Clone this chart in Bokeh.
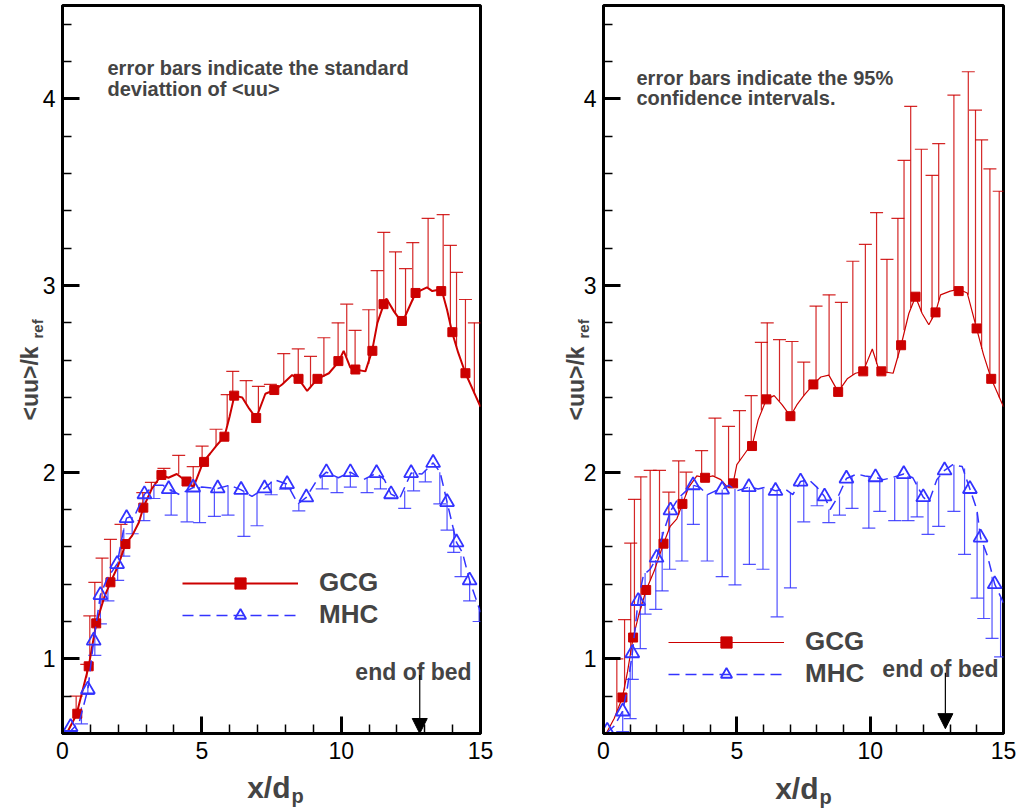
import math
from bokeh.plotting import figure
from bokeh.layouts import row
from bokeh.models import (ColumnDataSource, Whisker, TeeHead, FixedTicker, Label,
                          Legend, LegendItem, Arrow, NormalHead, Range1d)
from bokeh.embed import file_html
from bokeh.resources import INLINE

# ---------------- data: left panel (standard deviation) ----------------
L_GCG_CX = [0.15, 0.5, 0.94, 1.21, 1.5, 1.72, 2.0, 2.26, 2.5, 2.74, 2.9, 3.2, 3.55, 3.8, 4.1, 4.45, 4.7,
            5.05, 5.3, 5.51, 5.81, 6.0, 6.17, 6.45, 6.7, 6.95, 7.28, 7.61, 7.88, 8.24, 8.47, 8.78, 9.15,
            9.56, 9.9, 10.09, 10.33, 10.51, 10.87, 11.11, 11.3, 11.53, 11.62, 11.9, 12.19, 12.4, 12.67,
            13.08, 13.27, 13.6, 13.8, 13.98, 14.2, 14.46, 14.7, 15.0]
L_GCG_CY = [0.60, 0.70, 0.96, 1.19, 1.33, 1.41, 1.50, 1.615, 1.66, 1.73, 1.81, 1.91, 1.985, 1.97, 1.99,
            1.95, 1.92, 2.055, 2.10, 2.14, 2.19, 2.30, 2.41, 2.40, 2.34, 2.29, 2.42, 2.44, 2.47, 2.52,
            2.50, 2.435, 2.50, 2.53, 2.59, 2.65, 2.56, 2.55, 2.54, 2.65, 2.80, 2.90, 2.93, 2.86, 2.80,
            2.87, 2.96, 2.99, 2.97, 2.98, 2.87, 2.75, 2.64, 2.53, 2.45, 2.35]
L_GCG_MX = [0.53, 0.94, 1.21, 1.72, 2.26, 2.90, 3.55, 4.45, 5.08, 5.81, 6.16, 6.95, 7.60, 8.47, 9.15,
            9.90, 10.51, 11.12, 11.52, 12.18, 12.67, 13.59, 13.99, 14.46]
L_GCG_MY = [0.706, 0.96, 1.19, 1.41, 1.615, 1.81, 1.985, 1.95, 2.055, 2.19, 2.41, 2.29, 2.44, 2.50, 2.50,
            2.595, 2.55, 2.65, 2.90, 2.81, 2.96, 2.97, 2.75, 2.53]
L_GCG_EX = [0.49, 0.87, 0.98, 1.16, 1.42, 1.72, 2.10, 2.88, 3.19, 3.64, 4.17, 4.69, 5.01, 5.51, 5.91,
            6.11, 6.59, 7.03, 7.46, 7.94, 8.46, 8.90, 9.38, 9.89, 10.2, 10.5, 10.99, 11.29, 11.53,
            11.95, 12.31, 12.57, 13.12, 13.66, 13.92, 14.14, 14.46, 14.78]
L_GCG_EBASE = [0.69, 0.90, 1.00, 1.16, 1.30, 1.41, 1.54, 1.80, 1.91, 1.98, 1.99, 1.92, 2.04, 2.14, 2.25,
               2.38, 2.37, 2.31, 2.43, 2.48, 2.50, 2.45, 2.51, 2.59, 2.62, 2.55, 2.58, 2.79, 2.90,
               2.85, 2.84, 2.92, 2.99, 2.96, 2.79, 2.67, 2.53, 2.42]
L_GCG_ETOP = [0.80, 0.97, 1.23, 1.41, 1.54, 1.64, 1.72, 1.89, 1.945, 2.02, 2.09, 2.03, 2.14, 2.23, 2.415,
              2.54, 2.49, 2.46, 2.47, 2.635, 2.66, 2.62, 2.72, 2.80, 2.90, 2.76, 2.87, 3.08, 3.285,
              3.18, 3.09, 3.23, 3.36, 3.38, 3.215, 3.07, 2.925, 2.80]

L_MHC_CX = [0.2, 0.6, 0.91, 1.12, 1.36, 1.6, 1.96, 2.2, 2.30, 2.6, 2.94, 3.3, 3.6, 3.81, 4.2, 4.69, 5.0,
            5.57, 6.0, 6.41, 6.8, 7.25, 7.6, 8.06, 8.45, 8.75, 9.1, 9.47, 9.9, 10.33, 10.8, 11.27,
            11.55, 11.79, 12.1, 12.51, 12.9, 13.30, 13.55, 13.80, 14.14, 14.35, 14.61, 15.0]
L_MHC_CY = [0.60, 0.66, 0.836, 1.098, 1.342, 1.43, 1.508, 1.70, 1.754, 1.77, 1.882, 1.93, 1.93, 1.909,
            1.88, 1.918, 1.92, 1.913, 1.93, 1.905, 1.87, 1.913, 1.96, 1.936, 1.83, 1.865, 1.95, 2.00,
            1.97, 2.00, 1.96, 1.995, 1.96, 1.882, 1.86, 1.995, 1.99, 2.05, 2.0, 1.84, 1.624, 1.57,
            1.42, 1.25]
L_MHC_MX = [0.29, 0.91, 1.12, 1.36, 1.96, 2.30, 2.94, 3.81, 4.69, 5.57, 6.41, 7.25, 8.06, 8.75, 9.47,
            10.33, 11.27, 11.79, 12.51, 13.30, 13.80, 14.14, 14.61]
L_MHC_MY = [0.635, 0.836, 1.098, 1.342, 1.508, 1.754, 1.882, 1.909, 1.918, 1.913, 1.905, 1.913, 1.936,
            1.865, 2.00, 2.00, 1.995, 1.882, 1.995, 2.05, 1.84, 1.624, 1.42]
L_MHC_EX = [0.68, 0.91, 1.16, 1.36, 1.63, 1.98, 2.2, 2.50, 2.92, 3.28, 3.90, 4.47, 4.92, 5.45, 5.94,
            6.51, 6.98, 7.49, 8.0, 8.48, 9.32, 9.85, 10.33, 10.93, 11.41, 12.28, 12.6, 13.02, 13.54,
            13.80, 14.04, 14.3, 14.61, 14.95]
L_MHC_EBASE = [0.74, 0.86, 1.14, 1.342, 1.44, 1.52, 1.70, 1.76, 1.88, 1.93, 1.91, 1.90, 1.92, 1.913,
               1.93, 1.90, 1.89, 1.95, 1.94, 1.83, 1.98, 1.97, 2.00, 1.97, 1.98, 1.90, 2.0, 2.01,
               2.0, 1.84, 1.70, 1.55, 1.42, 1.27]
L_MHC_EBOT = [0.652, 0.81, 1.018, 1.187, 1.31, 1.42, 1.55, 1.67, 1.74, 1.859, 1.77, 1.734, 1.73, 1.763,
              1.77, 1.656, 1.713, 1.879, 1.909, 1.793, 1.91, 1.89, 1.92, 1.89, 1.91, 1.806, 1.90,
              1.948, 1.83, 1.69, 1.57, 1.44, 1.31, 1.20]

# ---------------- data: right panel (95% confidence) ----------------
R_GCG_CX = [0.1, 0.4, 0.71, 0.9, 1.11, 1.35, 1.6, 1.9, 2.25, 2.5, 2.75, 2.96, 3.2, 3.5, 3.81, 4.1, 4.4,
            4.65, 4.86, 5.0, 5.2, 5.4, 5.57, 5.8, 6.11, 6.4, 6.7, 7.01, 7.25, 7.51, 7.87, 8.15, 8.45,
            8.8, 9.14, 9.45, 9.74, 10.08, 10.3, 10.42, 10.86, 11.16, 11.45, 11.7, 11.95, 12.2, 12.45,
            12.64, 13.0, 13.32, 13.64, 13.99, 14.25, 14.54, 15.0]
R_GCG_CY = [0.6, 0.68, 0.793, 0.93, 1.114, 1.25, 1.369, 1.47, 1.617, 1.71, 1.75, 1.83, 1.92, 1.98,
            1.97, 1.98, 1.96, 1.92, 1.94, 2.04, 2.08, 2.12, 2.14, 2.28, 2.39, 2.41, 2.36, 2.30, 2.36,
            2.41, 2.47, 2.51, 2.52, 2.43, 2.50, 2.53, 2.54, 2.66, 2.56, 2.54, 2.53, 2.68, 2.85, 2.94,
            2.85, 2.79, 2.856, 2.95, 2.97, 2.98, 2.96, 2.77, 2.63, 2.50, 2.35]
R_GCG_MX = [0.71, 1.11, 1.60, 2.25, 2.96, 3.81, 4.86, 5.57, 6.11, 7.01, 7.87, 8.80, 9.74, 10.42, 11.16,
            11.70, 12.45, 13.32, 13.99, 14.54]
R_GCG_MY = [0.793, 1.114, 1.369, 1.617, 1.83, 1.97, 1.94, 2.14, 2.39, 2.30, 2.47, 2.43, 2.54, 2.54,
            2.68, 2.94, 2.856, 2.97, 2.77, 2.50]
R_GCG_EX = [0.50, 0.79, 1.02, 1.16, 1.40, 1.75, 2.10, 2.45, 2.82, 3.10, 3.68, 4.18, 4.69, 5.10, 5.54,
            5.92, 6.14, 6.60, 7.07, 7.51, 7.97, 8.46, 8.92, 9.35, 9.82, 10.24, 10.63, 11.04, 11.27,
            11.52, 11.92, 12.32, 12.57, 13.14, 13.68, 13.95, 14.18, 14.49, 14.84]
R_GCG_EBASE = [0.70, 0.83, 1.03, 1.14, 1.27, 1.42, 1.55, 1.69, 1.77, 1.88, 1.975, 1.98, 1.92, 2.06,
               2.14, 2.33, 2.39, 2.38, 2.31, 2.41, 2.48, 2.52, 2.45, 2.52, 2.56, 2.58, 2.53, 2.61,
               2.76, 2.88, 2.86, 2.82, 2.92, 2.975, 2.95, 2.80, 2.66, 2.52, 2.40]
R_GCG_ETOP = [1.00, 1.21, 1.62, 1.854, 1.975, 2.01, 2.01, 1.893, 2.06, 2.00, 2.115, 2.29, 2.245, 2.33,
              2.41, 2.695, 2.80, 2.71, 2.70, 2.59, 2.89, 2.95, 2.91, 3.13, 3.22, 3.39, 3.14, 3.36,
              3.67, 3.96, 3.73, 3.59, 3.76, 4.02, 4.145, 3.94, 3.78, 3.625, 3.505]

R_MHC_CX = [0.1, 0.4, 0.72, 0.9, 1.08, 1.3, 1.5, 1.75, 1.99, 2.25, 2.51, 2.8, 3.1, 3.36, 3.6, 3.9, 4.2,
            4.45, 4.7, 5.0, 5.45, 5.8, 6.1, 6.45, 6.8, 7.1, 7.39, 7.7, 8.0, 8.29, 8.5, 8.8, 9.11, 9.5,
            9.8, 10.2, 10.5, 10.8, 11.26, 11.6, 11.99, 12.2, 12.5, 12.79, 13.1, 13.45, 13.74, 14.0,
            14.14, 14.4, 14.67, 15.0]
R_MHC_CY = [0.6, 0.64, 0.72, 0.85, 1.03, 1.31, 1.45, 1.48, 1.54, 1.68, 1.79, 1.86, 1.90, 1.93, 1.92,
            1.88, 1.90, 1.907, 1.93, 1.90, 1.92, 1.91, 1.92, 1.90, 1.91, 1.88, 1.95, 1.96, 1.92, 1.87,
            1.80, 1.87, 1.966, 1.99, 1.98, 1.973, 1.96, 1.97, 1.99, 1.97, 1.866, 1.84, 1.96, 2.01,
            2.04, 2.03, 1.91, 1.80, 1.65, 1.55, 1.40, 1.30]
R_MHC_MX = [0.14, 0.72, 1.08, 1.30, 1.99, 2.51, 3.36, 4.45, 5.45, 6.45, 7.39, 8.29, 9.11, 10.2, 11.26,
            11.99, 12.79, 13.74, 14.14, 14.67]
R_MHC_MY = [0.615, 0.718, 1.03, 1.31, 1.542, 1.795, 1.93, 1.907, 1.92, 1.90, 1.95, 1.87, 1.966, 1.973,
            1.99, 1.866, 2.01, 1.91, 1.65, 1.40]
R_MHC_EX = [0.72, 1.00, 1.08, 1.38, 1.56, 1.96, 2.20, 2.48, 2.94, 3.37, 3.89, 4.45, 4.93, 5.47, 5.98,
            6.51, 7.01, 7.51, 8.01, 8.45, 8.85, 9.32, 9.95, 10.36, 10.92, 11.42, 11.76, 12.17, 12.57,
            13.14, 13.54, 14.01, 14.26, 14.57, 14.89]
R_MHC_EBASE = [0.72, 0.96, 1.03, 1.33, 1.46, 1.53, 1.68, 1.79, 1.87, 1.93, 1.88, 1.907, 1.91, 1.92,
               1.91, 1.90, 1.89, 1.96, 1.92, 1.80, 1.87, 1.98, 1.98, 1.97, 1.97, 1.98, 1.95, 1.84,
               1.97, 2.04, 2.02, 1.78, 1.60, 1.44, 1.33]
R_MHC_EBOT = [0.61, 0.68, 0.89, 1.055, 1.24, 1.265, 1.364, 1.48, 1.524, 1.72, 1.524, 1.44, 1.396,
              1.506, 1.48, 1.225, 1.38, 1.734, 1.82, 1.73, 1.77, 1.806, 1.70, 1.79, 1.74, 1.74, 1.76,
              1.667, 1.71, 1.79, 1.56, 1.325, 1.216, 1.11, 1.01]

X_TICKS = [0, 5, 10, 15]
X_MINOR = [1, 2, 3, 4, 6, 7, 8, 9, 11, 12, 13, 14]
Y_TICKS = [1, 2, 3, 4]
Y_MINOR = [0.6, 0.8, 1.2, 1.4, 1.6, 1.8, 2.2, 2.4, 2.6, 2.8, 3.2, 3.4, 3.6, 3.8, 4.2, 4.4]
BED_END = 12.82

RED = "#CC0000"
BLUE = "#3333FF"
FONT = "Liberation Sans"


def side_label(text, x, y, size, align="left", angle=0.0):
    # positions in canvas pixels (outside the frame, so placed in a side panel)
    return Label(x=x, y=y, x_units="canvas", y_units="canvas", text=text, angle=angle,
                 text_font=FONT, text_font_style="bold", text_font_size=size,
                 text_align=align, text_baseline="alphabetic")


def make_panel(width, border_left, border_right, d, cfg):
    p = figure(width=width, height=808, output_backend="svg", toolbar_location=None,
               x_range=Range1d(0, 15), y_range=Range1d(0.6, 4.5),
               min_border_left=border_left, min_border_right=border_right,
               min_border_top=5, min_border_bottom=75)
    p.grid.visible = False
    p.outline_line_color = "black"
    p.outline_line_width = 3
    p.background_fill_color = "white"
    p.border_fill_color = "white"
    p.xaxis.ticker = FixedTicker(ticks=X_TICKS, minor_ticks=X_MINOR)
    p.yaxis.ticker = FixedTicker(ticks=Y_TICKS, minor_ticks=Y_MINOR)
    for ax in (p.xaxis, p.yaxis):
        ax.axis_line_width = 3
        ax.axis_line_color = "black"
        ax.major_tick_in = 17
        ax.major_tick_out = 0
        ax.minor_tick_in = 9
        ax.minor_tick_out = 0
        ax.major_tick_line_width = 3
        ax.minor_tick_line_width = 1.5
        ax.major_label_text_font = FONT
        ax.major_label_text_font_size = "23px"
        ax.major_label_text_color = "black"
    p.xaxis.major_label_standoff = 8
    p.yaxis.major_label_standoff = 7

    lw = cfg["lw"]
    gsrc = ColumnDataSource(dict(x=d["gex"], base=d["gebase"], top=d["getop"]))
    p.add_layout(Whisker(source=gsrc, base="x", lower="base", upper="top", dimension="height",
                         line_color=RED, line_width=1.2, line_alpha=0.85, lower_head=None,
                         upper_head=TeeHead(size=13, line_color=RED, line_width=1.2, line_alpha=0.85)))
    msrc = ColumnDataSource(dict(x=d["mex"], base=d["mebase"], bot=d["mebot"]))
    p.add_layout(Whisker(source=msrc, base="x", lower="bot", upper="base", dimension="height",
                         line_color=BLUE, line_width=1.2, line_alpha=0.85, upper_head=None,
                         lower_head=TeeHead(size=13, line_color=BLUE, line_width=1.2, line_alpha=0.85)))

    gl = p.line(d["gcx"], d["gcy"], line_color=RED, line_width=lw)
    gm = p.scatter(d["gmx"], d["gmy"], marker="square", size=9, fill_color=RED, line_color=RED)
    ml = p.line(d["mcx"], d["mcy"], line_color=BLUE, line_width=1.5, line_dash="11 6")
    mm = p.scatter(d["mmx"], d["mmy"], marker="triangle", size=14, fill_color=None,
                   line_color=BLUE, line_width=1.8)

    legend = Legend(items=[LegendItem(label="GCG", renderers=[gl, gm]),
                           LegendItem(label="MHC", renderers=[ml, mm])],
                    location=cfg["leg_loc"], glyph_width=116, glyph_height=28, label_height=30,
                    label_standoff=21, spacing=1, padding=0, margin=0,
                    label_text_font=FONT, label_text_font_style="bold", label_text_font_size="26px",
                    background_fill_alpha=0, border_line_alpha=0)
    p.add_layout(legend)

    for txt, (lx, ly) in zip(cfg["note"], cfg["note_pos"]):
        p.add_layout(Label(x=lx, y=ly, x_units="screen", y_units="screen", text=txt,
                           text_font=FONT, text_font_style="bold", text_font_size="20px",
                           text_baseline="alphabetic", text_align="left"))
    ex, ey = cfg["bed_pos"]
    p.add_layout(Label(x=ex, y=ey, x_units="screen", y_units="screen", text="end of bed",
                       text_font=FONT, text_font_style="bold", text_font_size="23px",
                       text_baseline="alphabetic", text_align="center"))
    y0, y1 = cfg["arrow_y"]
    p.add_layout(Arrow(x_start=BED_END, y_start=y0, x_end=BED_END, y_end=y1, line_width=1.2,
                       line_color="black",
                       end=NormalHead(size=15, fill_color="black", line_color="black")))

    # axis titles (outside the frame -> side panels, canvas pixel positions)
    xl = cfg["xlab"]
    yl = cfg["ylab"]
    p.add_layout(side_label("x/d", xl[0], xl[1], "30px", align="right"), "below")
    p.add_layout(side_label("<uu>/k", yl[0], yl[1], "23px", angle=math.pi / 2), "left")
    for (txt, x, y, size, ang), where in zip(
            [("p", xl[0] + 1, xl[1] + 8, "20px", 0.0),
             ("ref", yl[0] + 8, yl[1] - 82, "15px", math.pi / 2)],
            cfg["sub_panels"]):
        p.add_layout(side_label(txt, x, y, size, angle=ang), where)
    return p


left = make_panel(520, 62, 40,
                  dict(gcx=L_GCG_CX, gcy=L_GCG_CY, gmx=L_GCG_MX, gmy=L_GCG_MY,
                       gex=L_GCG_EX, gebase=L_GCG_EBASE, getop=L_GCG_ETOP,
                       mcx=L_MHC_CX, mcy=L_MHC_CY, mmx=L_MHC_MX, mmy=L_MHC_MY,
                       mex=L_MHC_EX, mebase=L_MHC_EBASE, mebot=L_MHC_EBOT),
                  dict(lw=2, leg_loc=(120, 103),
                       note=["error bars indicate the standard", "deviattion of <uu>"],
                       note_pos=[(45, 666), (45, 645)],
                       bed_pos=(351, 62), arrow_y=(0.914, 0.6),
                       xlab=(290, 787), ylab=(29, 420), sub_panels=["right", "right"]))

right = make_panel(502, 83, 19,
                   dict(gcx=R_GCG_CX, gcy=R_GCG_CY, gmx=R_GCG_MX, gmy=R_GCG_MY,
                        gex=R_GCG_EX, gebase=R_GCG_EBASE, getop=R_GCG_ETOP,
                        mcx=R_MHC_CX, mcy=R_MHC_CY, mmx=R_MHC_MX, mmy=R_MHC_MY,
                        mex=R_MHC_EX, mebase=R_MHC_EBASE, mebot=R_MHC_EBOT),
                   dict(lw=1.2, leg_loc=(65, 44),
                        note=["error bars indicate the 95%", "confidence intervals."],
                        note_pos=[(33, 656), (33, 636)],
                        bed_pos=(337, 65), arrow_y=(0.925, 0.626),
                        xlab=(298, 788), ylab=(55, 420), sub_panels=["right", "left"]))

layout = row(left, right)
open("out.html", "w").write(file_html(layout, INLINE))
